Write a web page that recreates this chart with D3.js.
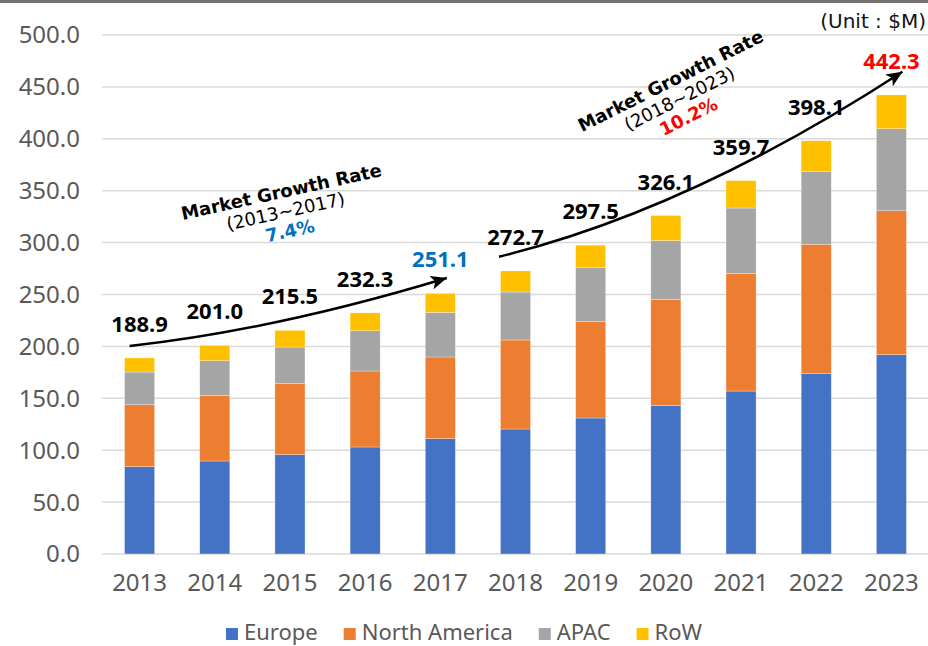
<!DOCTYPE html>
<html lang="en">
<head>
    <meta charset="UTF-8">
    <title>Market size by region</title>
    <script src="https://cdnjs.cloudflare.com/ajax/libs/d3/7.8.5/d3.min.js"></script>
    <style>
        body { margin: 0; background: #fff; }
        svg { display: block; }
        .grid line { stroke: #d9d9d9; stroke-width: 1.5; }
        .tick-label { font-family: "Noto Sans", sans-serif; font-size: 24px; fill: #595959; }
        .total { font-family: "Noto Sans", sans-serif; font-size: 22px; font-weight: bold; }
        .note { font-family: "DejaVu Sans", sans-serif; font-size: 18px; }
    </style>
</head>
<body>
    <div id="chart"></div>
    <script>
        const years = ['2013', '2014', '2015', '2016', '2017', '2018', '2019', '2020', '2021', '2022', '2023'];
        const regions = ['Europe', 'North America', 'APAC', 'RoW'];
        const europe = [84.1, 89.6, 95.7, 103.1, 111.1, 120.4, 131.0, 143.2, 157.0, 173.7, 192.0];
        const northAmerica = [59.7, 63.3, 68.4, 73.2, 78.7, 85.8, 93.2, 102.2, 113.4, 124.7, 138.7];
        const apac = [31.5, 33.3, 35.3, 38.8, 43.0, 46.2, 51.6, 56.5, 62.9, 70.3, 79.0];
        const row = [13.6, 14.8, 16.1, 17.2, 18.3, 20.3, 21.7, 24.2, 26.4, 29.4, 32.6];
        const totals = [188.9, 201.0, 215.5, 232.3, 251.1, 272.7, 297.5, 326.1, 359.7, 398.1, 442.3];
        const yTicks = [0, 50, 100, 150, 200, 250, 300, 350, 400, 450, 500];

        const colors = {
            'Europe': '#4472c4',
            'North America': '#ed7d31',
            'APAC': '#a5a5a5',
            'RoW': '#ffc000'
        };

        const width = 928;
        const height = 646;

        const table = years.map(function(y, i) {
            return {
                year: y,
                'Europe': europe[i],
                'North America': northAmerica[i],
                'APAC': apac[i],
                'RoW': row[i],
                total: totals[i]
            };
        });

        const svg = d3.select('#chart')
            .append('svg')
            .attr('width', width)
            .attr('height', height);

        // thin bar along the top edge
        svg.append('rect')
            .attr('x', 0).attr('y', 0)
            .attr('width', width).attr('height', 3)
            .attr('fill', '#767171');

        const x = d3.scaleBand()
            .domain(years)
            .range([102, 929])
            .paddingInner(0.6)
            .paddingOuter(0.3);

        const y = d3.scaleLinear()
            .domain([0, 500])
            .range([554, 35]);

        // gridlines
        svg.append('g')
            .attr('class', 'grid')
            .selectAll('line')
            .data(yTicks)
            .enter()
            .append('line')
            .attr('x1', 102)
            .attr('x2', width)
            .attr('y1', d => y(d))
            .attr('y2', d => y(d));

        // y labels
        svg.append('g')
            .selectAll('text')
            .data(yTicks)
            .enter()
            .append('text')
            .attr('class', 'tick-label')
            .attr('x', 80)
            .attr('y', d => y(d))
            .attr('dy', '0.35em')
            .attr('text-anchor', 'end')
            .text(d => d3.format('.1f')(d));

        // x labels
        svg.append('g')
            .selectAll('text')
            .data(years)
            .enter()
            .append('text')
            .attr('class', 'tick-label')
            .attr('x', d => x(d) + x.bandwidth() / 2)
            .attr('y', 591)
            .attr('text-anchor', 'middle')
            .text(d => d);

        // stacked bars
        const stacked = d3.stack().keys(regions)(table);

        svg.append('g')
            .selectAll('g')
            .data(stacked)
            .enter()
            .append('g')
            .attr('fill', d => colors[d.key])
            .selectAll('rect')
            .data(d => d)
            .enter()
            .append('rect')
            .attr('x', d => x(d.data.year))
            .attr('y', d => y(d[1]))
            .attr('width', x.bandwidth())
            .attr('height', d => y(d[0]) - y(d[1]))
            .attr('stroke', '#ffffff')
            .attr('stroke-opacity', 0.5)
            .attr('stroke-width', 0.6);

        // growth arrows (anchored to the scales)
        const cx = function(yr, off) {
            return x(yr) + x.bandwidth() / 2 + off;
        };

        const defs = svg.append('defs');
        defs.append('marker')
            .attr('id', 'head')
            .attr('markerUnits', 'userSpaceOnUse')
            .attr('markerWidth', 18)
            .attr('markerHeight', 14)
            .attr('refX', 16)
            .attr('refY', 7)
            .attr('orient', 'auto')
            .append('path')
            .attr('d', 'M0,0 L16,7 L0,14 L4,7 Z')
            .attr('fill', '#000');

        const arrows = [
            { from: [cx('2013', -10), y(200.4)], ctrl: [cx('2015', -15), y(215.8)], to: [cx('2017', 6.5), y(265.9)] },
            { from: [cx('2018', -16.5), y(286.4)], ctrl: [cx('2020', 24), y(331.4)], to: [cx('2023', 11), y(464.6)] }
        ];

        arrows.forEach(function(a) {
            const p = d3.path();
            p.moveTo(a.from[0], a.from[1]);
            p.quadraticCurveTo(a.ctrl[0], a.ctrl[1], a.to[0], a.to[1]);
            svg.append('path')
                .attr('d', p.toString())
                .attr('fill', 'none')
                .attr('stroke', '#000')
                .attr('stroke-width', 2.5)
                .attr('marker-end', 'url(#head)');
        });

        // total labels
        const labelColor = function(i) {
            if (i === 4) return '#0070c0';
            if (i === years.length - 1) return '#ff0000';
            return '#000';
        };

        svg.append('g')
            .selectAll('text')
            .data(table)
            .enter()
            .append('text')
            .attr('class', 'total')
            .attr('x', d => x(d.year) + x.bandwidth() / 2)
            .attr('y', d => y(d.total) - 26)
            .attr('text-anchor', 'middle')
            .attr('fill', (d, i) => labelColor(i))
            .text(d => d.total.toFixed(1));

        // growth rate notes
        const notes = [
            { x: cx('2015', -8.6), y: y(349), angle: -12.4, period: '(2013~2017)', rate: '7.4%', color: '#0070c0' },
            { x: cx('2020', 4.7), y: y(455.9), angle: -26.6, period: '(2018~2023)', rate: '10.2%', color: '#ff0000' }
        ];

        notes.forEach(function(n) {
            const g = svg.append('g')
                .attr('transform', 'translate(' + n.x + ',' + n.y + ') rotate(' + n.angle + ')');
            g.append('text')
                .attr('class', 'note')
                .attr('text-anchor', 'middle')
                .attr('dy', '0.35em')
                .attr('font-weight', 'bold')
                .text('Market Growth Rate');
            g.append('text')
                .attr('class', 'note')
                .attr('text-anchor', 'middle')
                .attr('y', 20)
                .attr('dy', '0.35em')
                .text(n.period);
            g.append('text')
                .attr('class', 'note')
                .attr('text-anchor', 'middle')
                .attr('y', 40)
                .attr('dy', '0.35em')
                .attr('font-weight', 'bold')
                .attr('fill', n.color)
                .text(n.rate);
        });

        // unit
        svg.append('text')
            .attr('x', 926)
            .attr('y', 28)
            .attr('text-anchor', 'end')
            .attr('font-family', '"DejaVu Sans", sans-serif')
            .attr('font-size', '20px')
            .attr('fill', '#111')
            .text('(Unit : $M)');

        // legend
        const legend = svg.append('g');
        let lx = 0;
        regions.forEach(function(r) {
            legend.append('rect')
                .attr('x', lx)
                .attr('y', 628)
                .attr('width', 12)
                .attr('height', 12)
                .attr('fill', colors[r]);
            const t = legend.append('text')
                .attr('x', lx + 18)
                .attr('y', 640)
                .attr('font-family', '"Noto Sans", sans-serif')
                .attr('font-size', '22px')
                .attr('fill', '#595959')
                .text(r);
            lx += 18 + t.node().getComputedTextLength() + 26;
        });
        const legendWidth = lx - 26;
        legend.attr('transform', 'translate(' + (464 - legendWidth / 2) + ',0)');
    </script>
</body>
</html>
